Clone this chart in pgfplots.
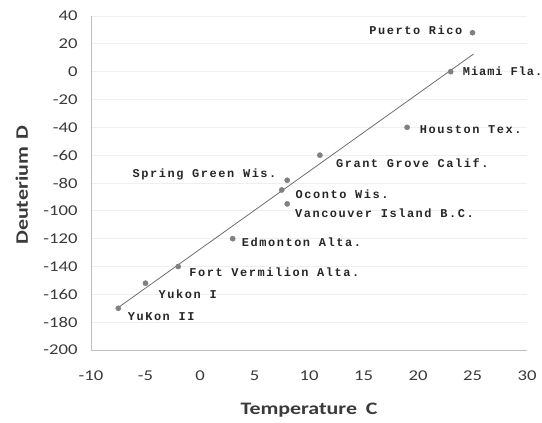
\documentclass[border=0pt]{standalone}
\usepackage{fontspec}
\setmainfont{Carlito}[FakeStretch=1.25]
\newfontfamily\lblfont[LetterSpace=13]{Liberation Mono}
\newfontfamily\lblfontn[LetterSpace=8]{Liberation Mono}
\usepackage{pgfplots}
\pgfplotsset{compat=1.18}
\definecolor{ptgray}{HTML}{808080}
\definecolor{lngray}{HTML}{6E6E6E}
\definecolor{axgray}{HTML}{C0C0C0}
\definecolor{grgray}{HTML}{EFEFEF}
\definecolor{txtgray}{HTML}{3A3A3A}
\tikzset{lbl/.style={inner sep=0pt, font=\lblfont\fontsize{12}{12}\selectfont\bfseries, text=black!85}}
\begin{document}
\begin{tikzpicture}
\path[use as bounding box] (-91bp,-73bp) rectangle (451bp,350bp);
\begin{axis}[at={(0,0)}, anchor=south west, scale only axis,
  width=436bp, height=334bp,
  xmin=-10, xmax=30, ymin=-200, ymax=40,
  xtick={-10,-5,...,30}, ytick={-200,-180,...,40},
  axis lines*=left,
  axis line style={axgray, line width=1pt},
  major tick length=0pt,
  ymajorgrids, grid style={grgray, line width=0.8pt},
  /pgf/number format/assume math mode=true,
  ticklabel style={font=\fontsize{15}{15}\selectfont, text=txtgray},
  yticklabel style={xshift=-10bp},
  xticklabel style={yshift=-17bp},
  xlabel={Temperature\hspace{0.5em}C},
  ylabel={Deuterium\hspace{0.45em}D},
  label style={font=\fontsize{17.6}{17.6}\selectfont\bfseries, text=txtgray},
  x label style={at={(axis description cs:0.5,-0.18)}, anchor=center},
  y label style={at={(axis description cs:-0.159,0.494)}, anchor=center, rotate=0},
  clip=false]
\addplot[only marks, mark=*, mark size=2.6bp, color=ptgray] table {
x y
25 28
23 0
19 -40
11 -60
8 -78
7.5 -85
8 -95
3 -120
-2 -140
-5 -152
-7.5 -170
};
\addplot[lngray, line width=0.8pt] coordinates {(-7.5,-169.5) (25.1,12.7)};
\node[lbl, anchor=east, xshift=-10bp, yshift=2bp] at (axis cs:25,28) {Puerto Rico};
\node[lbl, font=\lblfontn\fontsize{12}{12}\selectfont\bfseries, anchor=west, xshift=12bp, yshift=0bp] at (axis cs:23,0) {Miami Fla.};
\node[lbl, anchor=west, xshift=12.6bp, yshift=-2bp] at (axis cs:19,-40) {Houston Tex.};
\node[lbl, anchor=west, xshift=16bp, yshift=-8.4bp] at (axis cs:11,-60) {Grant Grove Calif.};
\node[lbl, anchor=east, xshift=-10.6bp, yshift=6bp] at (axis cs:8,-78) {Spring Green Wis.};
\node[lbl, anchor=west, xshift=13.7bp, yshift=-4bp] at (axis cs:7.5,-85) {Oconto Wis.};
\node[lbl, anchor=west, xshift=7.7bp, yshift=-9.3bp] at (axis cs:8,-95) {Vancouver Island B.C.};
\node[lbl, anchor=west, xshift=9bp, yshift=-3.4bp] at (axis cs:3,-120) {Edmonton Alta.};
\node[lbl, anchor=west, xshift=11bp, yshift=-6bp] at (axis cs:-2,-140) {Fort Vermilion Alta.};
\node[lbl, anchor=west, xshift=13bp, yshift=-11bp] at (axis cs:-5,-152) {Yukon I};
\node[lbl, anchor=west, xshift=9.4bp, yshift=-8bp] at (axis cs:-7.5,-170) {YuKon II};
\end{axis}
\end{tikzpicture}
\end{document}
